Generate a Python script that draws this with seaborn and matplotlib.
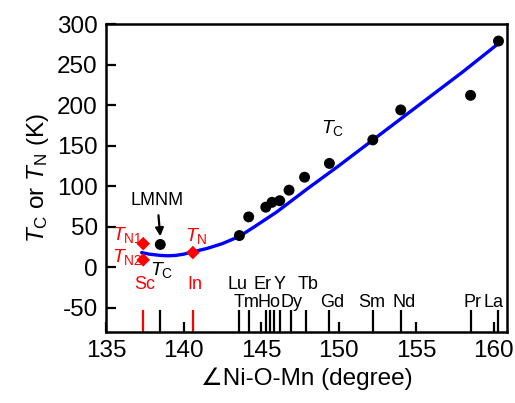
import numpy as np
import pandas as pd
import matplotlib
matplotlib.use("Agg")
import matplotlib.pyplot as plt
import seaborn as sns

# Curie temperatures of R2NiMnO6 (black dots)
tc_angle = [143.6, 144.2, 145.3, 145.7, 146.2, 146.8, 147.8, 149.4, 152.2, 154.0, 158.5, 160.3]
tc_temp = [39, 62, 74, 80, 82, 95, 111, 128, 157, 194, 212, 279]

# LMNM point
lmnm_angle = [138.5]
lmnm_temp = [28]

# Neel temperatures (red diamonds): Sc (TN1, TN2) and In
tn_angle = [137.4, 137.4, 140.6]
tn_temp = [29, 9, 18]

# Guide curve through the data
curve_angle = [137.3, 137.8, 138.5, 139.0, 139.5, 140.0, 140.6, 141.5, 142.5, 143.6,
               144.5, 146.0, 148.0, 150.0, 152.0, 154.0, 156.0, 158.0, 160.3]
curve_temp = [18, 16, 14.5, 14, 14.5, 16, 19, 23, 29, 38,
              49, 68, 97, 125, 154, 183, 212, 241, 276]

# Rare-earth markers along the bottom
elem_angle = [143.6, 144.2, 145.3, 145.6, 145.85, 146.2, 146.9, 147.9, 149.4, 152.2, 154.0, 158.5, 160.3]
red_angle = [137.4, 140.6]
red_names = ["Sc", "In"]
lmnm_line = [138.5]

top_names = ["Lu", "Er", "Y", "Tb"]
top_pos = [143.5, 145.1, 146.2, 148.0]
bot_names = ["Tm", "Ho", "Dy", "Gd", "Sm", "Nd", "Pr", "La"]
bot_pos = [144.05, 145.5, 146.95, 149.6, 152.1, 154.2, 158.6, 160.0]

xticks = [135, 140, 145, 150, 155, 160]
yticks = [-50, 0, 50, 100, 150, 200, 250, 300]

sns.set_style("ticks")
plt.rcParams["font.family"] = ["Liberation Sans", "DejaVu Sans"]
plt.rcParams["mathtext.fontset"] = "custom"
plt.rcParams["mathtext.rm"] = "Liberation Sans"
plt.rcParams["mathtext.it"] = "Liberation Sans:italic"
plt.rcParams["axes.unicode_minus"] = False
plt.rcParams["text.color"] = "black"
plt.rcParams["axes.labelcolor"] = "black"
plt.rcParams["xtick.color"] = "black"
plt.rcParams["ytick.color"] = "black"

fig = plt.figure(figsize=(5.15, 4.03), dpi=100)
ax = fig.add_axes([0.2058, 0.1762, 0.7787, 0.7642])

curve = pd.DataFrame({"x": curve_angle, "y": curve_temp})
sns.lineplot(data=curve, x="x", y="y", ax=ax, color="#0000FF", lw=2.4, zorder=2)

tc = pd.DataFrame({"x": tc_angle + lmnm_angle, "y": tc_temp + lmnm_temp})
sns.scatterplot(data=tc, x="x", y="y", ax=ax, color="black", s=62, edgecolor="none", zorder=3)

tn = pd.DataFrame({"x": tn_angle, "y": tn_temp})
sns.scatterplot(data=tn, x="x", y="y", ax=ax, color="#FF0000", marker="D", s=48,
                edgecolor="none", zorder=3)

ymin, ymax = -80, 300
line_top = -53
ax.vlines(elem_angle + lmnm_line, ymin, line_top, color="black", lw=1.6, zorder=1)
ax.vlines(red_angle, ymin, line_top, color="#FF0000", lw=1.6, zorder=1)

lab_fs = 13
for name, x in zip(top_names, top_pos):
    ax.text(x, -21.5, name, ha="center", va="center", fontsize=lab_fs)
for name, x in zip(bot_names, bot_pos):
    ax.text(x, -43.5, name, ha="center", va="center", fontsize=lab_fs)
for name, x in zip(red_names, red_angle):
    ax.text(x + 0.1, -21.5, name, ha="center", va="center", fontsize=lab_fs, color="#FF0000")

ax.text(135.4, 40, r"$T_{\mathrm{N1}}$", ha="left", va="center", fontsize=14, color="#FF0000")
ax.text(135.4, 12, r"$T_{\mathrm{N2}}$", ha="left", va="center", fontsize=14, color="#FF0000")
ax.text(140.8, 39, r"$T_{\mathrm{N}}$", ha="center", va="center", fontsize=14, color="#FF0000")
ax.text(138.6, -4, r"$T_{\mathrm{C}}$", ha="center", va="center", fontsize=14, color="black")
ax.text(149.6, 172, r"$T_{\mathrm{C}}$", ha="center", va="center", fontsize=14, color="black")

ax.annotate("LMNM", xy=(138.5, 38), xytext=(138.3, 82), ha="center", va="center",
            fontsize=13,
            arrowprops=dict(arrowstyle="-|>", color="black", lw=1.6,
                            shrinkA=2, shrinkB=0, mutation_scale=12))

ax.set_xlim(135, 160.85)
ax.set_ylim(ymin, ymax)
ax.set_xticks(xticks)
ax.set_yticks(yticks)
ax.tick_params(axis="both", direction="in", length=7, width=1.6, labelsize=17.5,
               top=False, right=False, pad=6)
for s in ax.spines.values():
    s.set_linewidth(1.8)
    s.set_visible(True)
    s.set_color("black")

ax.set_xlabel("∠Ni-O-Mn (degree)", fontsize=17.5, labelpad=4)
ax.set_ylabel(r"$T_{\mathrm{C}}$ or $T_{\mathrm{N}}$ (K)", fontsize=17.5, labelpad=4)

fig.savefig("out.png", dpi=100)
